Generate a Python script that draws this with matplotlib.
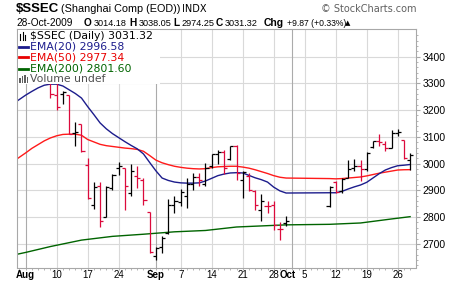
import numpy as np
import matplotlib.pyplot as plt
from matplotlib.patches import Rectangle
from matplotlib.lines import Line2D

plt.rcParams['font.family'] = ['Liberation Sans', 'DejaVu Sans']

# daily OHLC, $SSEC
dates = ['2009-08-03', '2009-08-04', '2009-08-05', '2009-08-06', '2009-08-07',
         '2009-08-10', '2009-08-11', '2009-08-12', '2009-08-13', '2009-08-14',
         '2009-08-17', '2009-08-18', '2009-08-19', '2009-08-20', '2009-08-21',
         '2009-08-24', '2009-08-25', '2009-08-26', '2009-08-27', '2009-08-28',
         '2009-08-31', '2009-09-01', '2009-09-02', '2009-09-03', '2009-09-04',
         '2009-09-07', '2009-09-08', '2009-09-09', '2009-09-10', '2009-09-11',
         '2009-09-14', '2009-09-15', '2009-09-16', '2009-09-17', '2009-09-18',
         '2009-09-21', '2009-09-22', '2009-09-23', '2009-09-24', '2009-09-25',
         '2009-09-28', '2009-09-29', '2009-09-30',
         '2009-10-09', '2009-10-12', '2009-10-13', '2009-10-14', '2009-10-15',
         '2009-10-16', '2009-10-19', '2009-10-20', '2009-10-21', '2009-10-22',
         '2009-10-23', '2009-10-26', '2009-10-27', '2009-10-28']
opens = [3412, 3462, 3462, 3415, 3300, 3255, 3262, 3258, 3115, 3149,
         2996, 2846, 2918, 2800, 2909, 2984, 2984, 2890, 2952, 2940,
         2818, 2653, 2687, 2740, 2846, 2858, 2880, 2925, 2950, 2925,
         2990, 3036, 3044, 3016, 3066, 2940, 2955, 2898, 2828, 2840,
         2846, 2755, 2778,
         2840, 2930, 2896, 2948, 2985, 2990, 2978, 3061, 3083, 3072,
         3059, 3115, 3087, 3014.18]
highs = [3463, 3478, 3470, 3420, 3305, 3300, 3273, 3258, 3154, 3149,
         3021, 2930, 2930, 2915, 2961, 3006, 2984, 2999, 2990, 2946,
         2818, 2690, 2730, 2868, 2880, 2905, 2945, 2965, 2965, 3003,
         3037, 3052, 3050, 3065, 3069, 2971, 2963, 2900, 2888, 2862,
         2862, 2780, 2803,
         2915, 2934, 2946, 3015, 3017, 3012, 3042, 3086, 3109, 3086,
         3127, 3130, 3090, 3038.05]
lows = [3396, 3426, 3394, 3344, 3246, 3200, 3221, 3111, 3065, 3044,
        2869, 2830, 2762, 2800, 2903, 2959, 2828, 2878, 2909, 2846,
        2666, 2638, 2665, 2737, 2815, 2840, 2834, 2903, 2915, 2918,
        2985, 3000, 2960, 3015, 2940, 2872, 2896, 2825, 2784, 2815,
        2753, 2715, 2768,
        2838, 2890, 2890, 2946, 2971, 2934, 2971, 3059, 3065, 3046,
        3059, 3102, 3018, 2974.25]
closes = [3462, 3471, 3428, 3356, 3262, 3212, 3268, 3111, 3119, 3046,
          2872, 2913, 2784, 2913, 2959, 2990, 2918, 2971, 2946, 2865,
          2669, 2683, 2722, 2846, 2862, 2895, 2925, 2950, 2940, 2985,
          3034, 3044, 2985, 3064, 2966, 2970, 2900, 2846, 2859, 2843,
          2771, 2756, 2784,
          2913, 2893, 2943, 2978, 2990, 2980, 3040, 3083, 3080, 3059,
          3115, 3118, 3021, 3031.32]

ema20_dates = ['2009-07-30', '2009-08-03', '2009-08-04', '2009-08-05', '2009-08-06',
               '2009-08-07', '2009-08-10', '2009-08-11', '2009-08-12', '2009-08-13',
               '2009-08-14', '2009-08-17', '2009-08-18', '2009-08-19', '2009-08-20',
               '2009-08-21', '2009-08-24', '2009-08-25', '2009-08-26', '2009-08-27',
               '2009-08-28', '2009-08-31', '2009-09-01', '2009-09-02', '2009-09-03',
               '2009-09-04', '2009-09-07', '2009-09-08', '2009-09-09', '2009-09-10',
               '2009-09-11', '2009-09-14', '2009-09-15', '2009-09-16', '2009-09-17',
               '2009-09-18', '2009-09-21', '2009-09-22', '2009-09-23', '2009-09-24',
               '2009-09-25', '2009-09-28', '2009-09-29', '2009-09-30', '2009-10-09',
               '2009-10-12', '2009-10-13', '2009-10-14', '2009-10-15', '2009-10-16',
               '2009-10-19', '2009-10-20', '2009-10-21', '2009-10-22', '2009-10-23',
               '2009-10-26', '2009-10-27', '2009-10-28']
ema20 = [3224, 3256, 3270, 3283, 3293, 3297, 3297, 3290, 3276, 3262,
         3245, 3213, 3183, 3152, 3130, 3112, 3097, 3082, 3068, 3055,
         3036, 3004, 2973, 2946, 2937, 2931, 2928, 2927, 2927, 2928,
         2935, 2945, 2955, 2961, 2965, 2966, 2965, 2956, 2947, 2940,
         2931, 2912, 2898, 2890, 2891, 2891, 2896, 2905, 2913, 2920,
         2930, 2946, 2962, 2976, 2985, 2992, 2994, 2996.58]

ema50_dates = ema20_dates
ema50 = [3008, 3040, 3057, 3071, 3085, 3096, 3104, 3109, 3110, 3110,
         3106, 3090, 3081, 3072, 3067, 3064, 3061, 3058, 3056, 3053,
         3046, 3030, 3013, 3003, 2996, 2990, 2986, 2983, 2981, 2980,
         2981, 2985, 2988, 2989, 2990, 2990, 2987, 2983, 2977, 2970,
         2963, 2955, 2949, 2946, 2944, 2943, 2944, 2946, 2948, 2950,
         2954, 2959, 2964, 2968, 2972, 2976, 2977, 2977.34]

ema200_dates = ['2009-07-30', '2009-08-03', '2009-08-07', '2009-08-14', '2009-08-21',
                '2009-08-28', '2009-09-04', '2009-09-11', '2009-09-18', '2009-09-25',
                '2009-09-30', '2009-10-09', '2009-10-16', '2009-10-23', '2009-10-28']
ema200 = [2658, 2668, 2690, 2714, 2728, 2736, 2745, 2750, 2763, 2768,
          2771, 2773, 2778, 2793, 2801.6]

week_dates = ['2009-08-10', '2009-08-17', '2009-08-24', '2009-09-07', '2009-09-14',
              '2009-09-21', '2009-09-28', '2009-10-05', '2009-10-12', '2009-10-19',
              '2009-10-26']
week_labels = ['10', '17', '24', '7', '14', '21', '28', '5', '12', '19', '26']
month_dates = ['2009-08-03', '2009-09-01', '2009-10-01']
month_labels = ['Aug', 'Sep', 'Oct']
y_ticks = [2700, 2800, 2900, 3000, 3100, 3200, 3300, 3400]


def idx(d):
    # trading-day axis: every weekday gets a slot (holidays stay blank)
    return np.busday_count('2009-08-03', d)


x = np.array([idx(d) for d in dates])
o = np.array(opens); h = np.array(highs); l = np.array(lows); c = np.array(closes)
prev = np.concatenate([[o[0]], c[:-1]])
cols = np.where(c >= prev, 'black', '#dc0a3c')

fig = plt.figure(figsize=(4.6, 2.84), dpi=100)
W, H = 460.0, 284.0
ax = fig.add_axes([16.7 / W, 1 - 267.5 / H, (416 - 16.7) / W, (267.5 - 29.3) / H])
ax.set_xlim(-1.45, 62.95)
ax.set_ylim(2611.6, 3502)

# grid
for v in y_ticks:
    ax.axhline(v, color='#d9d9d9', lw=0.8, zorder=0)
for d in week_dates:
    ax.axvline(idx(d), color='#d9d9d9', lw=0.8, zorder=0)
for d in month_dates:
    ax.axvline(idx(d), color='#ababab', lw=0.8, zorder=0)

# EMAs
ax.plot([idx(d) for d in ema200_dates], ema200, color='#006400', lw=1.0, zorder=2)
ax.plot([idx(d) for d in ema50_dates], ema50, color='#ff1a1a', lw=1.0, zorder=2)
ax.plot([idx(d) for d in ema20_dates], ema20, color='#1c1c8c', lw=1.0, zorder=2)

# OHLC bars
ax.vlines(x, l, h, colors=cols, lw=0.9, zorder=3)
ax.hlines(o, x - 0.5, x, colors=cols, lw=0.9, zorder=3)
ax.hlines(c, x, x + 0.5, colors=cols, lw=0.9, zorder=3)

# axes styling
for s in ax.spines.values():
    s.set_color('#a8a8a8')
    s.set_linewidth(0.8)
ax.yaxis.tick_right()
ax.set_yticks(y_ticks)
ax.set_yticks(np.arange(2620, 3500, 20), minor=True)
ax.tick_params(axis='y', which='major', length=3, color='#a8a8a8', labelsize=7.5, pad=1.5)
ax.tick_params(axis='y', which='minor', length=1.5, color='#a8a8a8')
ax.tick_params(axis='y', which='both', left=False)
ax.set_xticks([])
ax.set_xticks(np.arange(-1, 63), minor=True)
ax.tick_params(axis='x', which='minor', length=1.5, color='#a8a8a8')

# x labels (weeks + bold months)
xt = ax.get_xaxis_transform()
lab_y = -(275.5 - 267.5) / (267.5 - 29.3)
for d, lab in zip(week_dates, week_labels):
    ax.text(idx(d), lab_y, lab, transform=xt, ha='center', va='center', fontsize=7)
for d, lab in zip(month_dates, month_labels):
    if lab == 'Oct':
        ax.text(idx(d) - 2.1, lab_y, lab, transform=xt, ha='left', va='center',
                fontsize=7, fontweight='bold')
    else:
        ax.text(idx(d), lab_y, lab, transform=xt, ha='center', va='center',
                fontsize=7, fontweight='bold')

# legend block in top-left
ax.add_patch(Rectangle((17.5 / W, 1 - 84 / H), (160 - 17.5) / W, (84 - 30) / H,
                       transform=fig.transFigure, facecolor='white', edgecolor='none', zorder=4))
lf = dict(fontsize=7.8, family='DejaVu Sans', va='center', zorder=5)
fig.text(30.5 / W, 1 - 36 / H, '$SSEC (Daily) 3031.32', color='black', **lf)
fig.text(29.5 / W, 1 - 46.7 / H, 'EMA(20) 2996.58', color='#1c1c8c', **lf)
fig.text(29.5 / W, 1 - 57.3 / H, 'EMA(50) 2977.34', color='#e80000', **lf)
fig.text(29.5 / W, 1 - 68.5 / H, 'EMA(200) 2801.60', color='#006400', **lf)
fig.text(29.5 / W, 1 - 79.3 / H, 'Volume undef', color='#505050', **lf)
for yy, cc in [(46.7, '#1c1c8c'), (57.3, '#e80000'), (68.5, '#006400')]:
    fig.add_artist(Line2D([19.5 / W, 28 / W], [1 - yy / H, 1 - yy / H], color=cc, lw=2.0))
# small bar icons
for xx, y0, y1 in [(20.5, 34, 40), (23, 32, 40), (25.5, 35, 40)]:
    fig.add_artist(Line2D([xx / W, xx / W], [1 - y1 / H, 1 - y0 / H], color='black', lw=0.8))
for xx, y0 in [(20, 78), (22.5, 76), (25, 75), (27.5, 77)]:
    fig.add_artist(Rectangle((xx / W - 0.9 / W, 1 - 83 / H), 1.8 / W, (83 - y0) / H,
                             facecolor='#606060', edgecolor='none'))

# header
fig.text(16 / W, 1 - 9.5 / H, '$SSEC', fontsize=9.5, fontweight='bold', va='center')
fig.text(61.5 / W, 1 - 9.5 / H, '(Shanghai Comp (EOD))', fontsize=7.8, va='center')
fig.text(182.5 / W, 1 - 9.5 / H, 'INDX', fontsize=7, va='center', family='DejaVu Sans')
fig.text(416.5 / W, 1 - 9.5 / H, '\u00a9 StockCharts.com', fontsize=7, va='center', ha='right',
         color='#606060', family='DejaVu Sans')
row = 1 - 23.5 / H
fig.text(16 / W, row, '28-Oct-2009', fontsize=7.3, va='center')
# bold letter right-aligned just before its number
items = [(93.3, 'O', '3014.18'), (138.3, 'H', '3038.05'), (181.7, 'L', '2974.25'),
         (225, 'C', '3031.32')]
for px, s, num in items:
    fig.text((px - 1.8) / W, row, s, fontsize=7.3, fontweight='bold', ha='right', va='center')
    fig.text(px / W, row, num, fontsize=6.6, ha='left', va='center')
fig.text(284 / W, row, 'Chg', fontsize=7.5, fontweight='bold', ha='right', va='center')
fig.text(286.8 / W, row, '+9.87 (+0.33%)', fontsize=6.2, ha='left', va='center')
fig.text(347.5 / W, row, '\u25b2', fontsize=5, ha='center', va='center', family='DejaVu Sans')

fig.savefig('out.png', dpi=100)
